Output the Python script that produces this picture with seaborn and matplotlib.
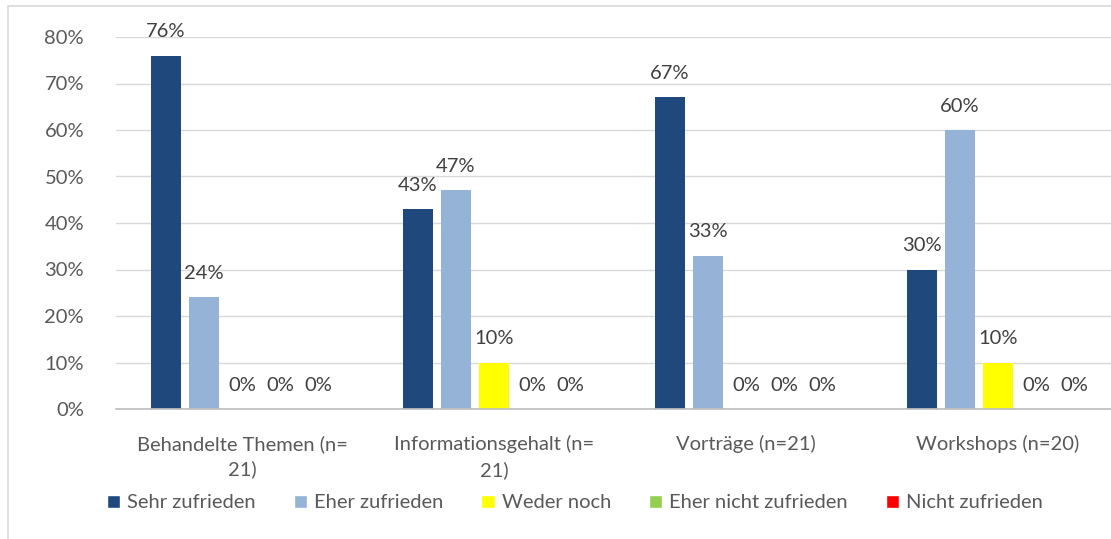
import matplotlib
matplotlib.use("Agg")
import matplotlib.pyplot as plt
import matplotlib.ticker as mticker
from matplotlib.patches import Rectangle, Patch
import pandas as pd
import seaborn as sns

# Daten
kategorien = ["Behandelte Themen (n=\n21)", "Informationsgehalt (n=\n21)",
              "Vorträge (n=21)", "Workshops (n=20)"]
antworten = ["Sehr zufrieden", "Eher zufrieden", "Weder noch",
             "Eher nicht zufrieden", "Nicht zufrieden"]
sehr_zufrieden = [76, 43, 67, 30]
eher_zufrieden = [24, 47, 33, 60]
weder_noch = [0, 10, 0, 10]
eher_nicht = [0, 0, 0, 0]
nicht_zufrieden = [0, 0, 0, 0]
farben = ["#1F497D", "#95B3D7", "#FFFF00", "#92D050", "#FF0000"]

werte = [sehr_zufrieden, eher_zufrieden, weder_noch, eher_nicht, nicht_zufrieden]
rows = []
for a, serie in zip(antworten, werte):
    for k, v in zip(kategorien, serie):
        rows.append({"Kategorie": k, "Antwort": a, "Wert": v})
df = pd.DataFrame(rows)

sns.set_theme(style="white")
plt.rcParams["font.family"] = ["Lato", "DejaVu Sans"]
TXT = "#595959"
FS = 14.5

fig = plt.figure(figsize=(11.11, 5.39), dpi=100)
ax = fig.add_axes([116 / 1111, 130 / 539, 1008 / 1111, 372 / 539])

sns.barplot(data=df, x="Kategorie", y="Wert", hue="Antwort",
            order=kategorien, hue_order=antworten, palette=farben,
            width=0.754, ax=ax, legend=False, saturation=1)

# Balken schmaler machen (Lücke zwischen Balken)
for p in ax.patches:
    w = p.get_width()
    p.set_x(p.get_x() + w * 0.1)
    p.set_width(w * 0.8)
    p.set_linewidth(0)

# Datenbeschriftungen
for p in ax.patches:
    h = p.get_height()
    if p.get_width() == 0:
        continue
    ax.annotate(f"{h:.0f}%", (p.get_x() + p.get_width() / 2, h),
                xytext=(0, 11), textcoords="offset points",
                ha="center", va="bottom", fontsize=FS, color="#404040")

ax.set_ylim(0, 80)
ax.set_xlim(-0.5, 3.5)
ax.yaxis.set_major_locator(mticker.MultipleLocator(10))
ax.yaxis.set_major_formatter(mticker.FuncFormatter(lambda v, _: f"{v:.0f}%"))
ax.yaxis.grid(True, color="#D9D9D9", linewidth=1)
ax.set_axisbelow(True)
for s in ["top", "right", "left"]:
    ax.spines[s].set_visible(False)
ax.spines["bottom"].set_color("#BFBFBF")
ax.set_xlabel("")
ax.set_ylabel("")
ax.tick_params(axis="y", length=0, labelsize=FS, labelcolor=TXT, pad=23)
ax.tick_params(axis="x", length=0, labelsize=FS, labelcolor=TXT, pad=19)
ax.set_xticks(range(4))
ax.set_xticklabels(kategorien, linespacing=1.5)
ax.set_xticks([-0.5, 0.5, 1.5, 2.5, 3.5], minor=True)
ax.tick_params(axis="x", which="minor", length=7, color="#BFBFBF", direction="out")

# Legende
handles = [Patch(facecolor=c, label=a) for c, a in zip(farben, antworten)]
fig.legend(handles=handles, loc="center", bbox_to_anchor=(575 / 1111, 1 - 503 / 539),
           ncol=5, frameon=False, fontsize=FS, handlelength=0.65, handleheight=0.65,
           handletextpad=0.35, columnspacing=1.9, labelcolor=TXT)

# Rahmen um das Diagramm
fig.patches.append(Rectangle((8 / 1111, -0.05), 1.2, 1 - 6 / 539 + 0.05,
                             transform=fig.transFigure, fill=False,
                             edgecolor="#D9D9D9", linewidth=1.2))

fig.savefig("out.png", dpi=100)
